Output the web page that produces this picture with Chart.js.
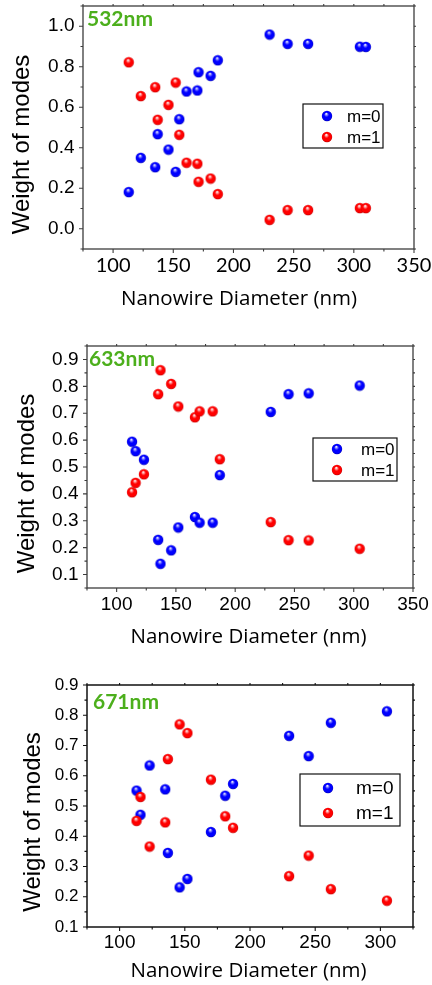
<!DOCTYPE html>
<html>
<head>
<meta charset="utf-8">
<script src="https://cdn.jsdelivr.net/npm/chart.js@4.4.1/dist/chart.umd.min.js"></script>
<style>
  html, body { margin: 0; padding: 0; background: #fff; }
  body { width: 432px; height: 985px; position: relative; overflow: hidden; }
  .panel { position: absolute; left: 0; width: 432px; }
</style>
</head>
<body>
<div class="panel" style="top:0;height:320px"><canvas id="c532"></canvas></div>
<div class="panel" style="top:320px;height:340px"><canvas id="c633"></canvas></div>
<div class="panel" style="top:660px;height:325px"><canvas id="c671"></canvas></div>
<script>
// ---- 532 nm ----
const diam532 = [113, 123, 135, 137, 146, 152, 155, 161, 170, 171, 181, 187, 230, 245, 262, 305, 310];
const m0_532  = [0.181, 0.350, 0.304, 0.467, 0.391, 0.281, 0.541, 0.678, 0.683, 0.773, 0.755, 0.832, 0.959, 0.913, 0.913, 0.899, 0.898];
const m1_532  = [0.822, 0.655, 0.699, 0.538, 0.612, 0.722, 0.464, 0.326, 0.321, 0.232, 0.248, 0.171, 0.044, 0.092, 0.092, 0.102, 0.102];
const xTicks532 = [100, 150, 200, 250, 300, 350];
const yTicks532 = [0.0, 0.2, 0.4, 0.6, 0.8, 1.0];

// ---- 633 nm ----
const diam633 = [113, 116, 123, 135, 137, 146, 152, 166, 170, 181, 187, 230, 245, 262, 305];
const m0_633  = [0.594, 0.559, 0.527, 0.229, 0.140, 0.190, 0.275, 0.314, 0.293, 0.293, 0.470, 0.705, 0.771, 0.774, 0.803];
const m1_633  = [0.406, 0.441, 0.473, 0.771, 0.860, 0.809, 0.725, 0.685, 0.707, 0.707, 0.529, 0.295, 0.228, 0.227, 0.196];
const xTicks633 = [100, 150, 200, 250, 300, 350];
const yTicks633 = [0.1, 0.2, 0.3, 0.4, 0.5, 0.6, 0.7, 0.8, 0.9];

// ---- 671 nm ----
const diam671 = [113, 116, 123, 135, 137, 146, 152, 170, 181, 187, 230, 245, 262, 305];
const m0_671  = [0.551, 0.471, 0.634, 0.555, 0.345, 0.231, 0.259, 0.414, 0.534, 0.573, 0.732, 0.665, 0.775, 0.813];
const m1_671  = [0.451, 0.530, 0.366, 0.446, 0.655, 0.770, 0.741, 0.587, 0.466, 0.428, 0.268, 0.336, 0.225, 0.187];
const xTicks671 = [100, 150, 200, 250, 300];
const yTicks671 = [0.1, 0.2, 0.3, 0.4, 0.5, 0.6, 0.7, 0.8, 0.9];

const seriesNames = ['m=0', 'm=1'];
const xTitle = 'Nanowire Diameter (nm)';
const yTitle = 'Weight of modes';

Chart.defaults.font.family = "'Liberation Sans', Arial, sans-serif";
Chart.defaults.color = '#000';

// glossy sphere marker
function makeBall(light, base, dark) {
  const s = 12, r = 5.2, cx = s / 2, cy = s / 2;
  const c = document.createElement('canvas');
  c.width = s; c.height = s;
  const g = c.getContext('2d');
  const grad = g.createRadialGradient(cx - 0.8, cy - 2.3, 0.2, cx, cy, r);
  grad.addColorStop(0, '#ffffff');
  grad.addColorStop(0.2, light);
  grad.addColorStop(0.45, base);
  grad.addColorStop(0.85, base);
  grad.addColorStop(1, dark);
  g.fillStyle = grad;
  g.beginPath(); g.arc(cx, cy, r, 0, Math.PI * 2); g.fill();
  return c;
}
const blueBall = makeBall('#8080ff', '#0000ff', '#0000b4');
const redBall  = makeBall('#ff9090', '#ff0000', '#c00000');

function minorValues(majors, min, max) {
  const step = (majors[1] - majors[0]) / 2;
  const out = [];
  const start = Math.ceil((min - 1e-9) / step);
  for (let k = start; k * step <= max + 1e-9; k++) {
    const v = +(k * step).toFixed(6);
    if (!majors.some(m => Math.abs(m - v) < 1e-6)) out.push(v);
  }
  return out;
}

function decorPlugin(p) {
  return {
    id: 'decor',
    afterDraw(chart) {
      const { ctx, chartArea: a, scales: { x, y } } = chart;
      ctx.save();
      // axis frame
      ctx.strokeStyle = p.frame; ctx.lineWidth = p.frameWidth;
      ctx.strokeRect(a.left, a.top, a.right - a.left, a.bottom - a.top);
      // tick marks
      ctx.lineWidth = 1.1;
      ctx.beginPath();
      const xMin = minorValues(p.xTicks, x.min, x.max);
      const yMin = minorValues(p.yTicks, y.min, y.max);
      p.xTicks.forEach(v => { const px = x.getPixelForValue(v); ctx.moveTo(px, a.bottom); ctx.lineTo(px, a.bottom + 4); ctx.moveTo(px, a.top); ctx.lineTo(px, a.top - 2); });
      xMin.forEach(v => { const px = x.getPixelForValue(v); ctx.moveTo(px, a.bottom); ctx.lineTo(px, a.bottom + 2.5); ctx.moveTo(px, a.top); ctx.lineTo(px, a.top - 2); });
      p.yTicks.forEach(v => { const py = y.getPixelForValue(v); ctx.moveTo(a.left, py); ctx.lineTo(a.left - 4, py); ctx.moveTo(a.right, py); ctx.lineTo(a.right + 2, py); });
      yMin.forEach(v => { const py = y.getPixelForValue(v); ctx.moveTo(a.left, py); ctx.lineTo(a.left - 2.5, py); ctx.moveTo(a.right, py); ctx.lineTo(a.right + 2, py); });
      ctx.stroke();

      // axis titles
      ctx.fillStyle = '#000';
      ctx.textAlign = 'center'; ctx.textBaseline = 'middle';
      ctx.font = p.xTitleFont;
      ctx.fillText(xTitle, p.xTitlePos[0], p.xTitlePos[1]);
      ctx.save();
      ctx.translate(p.yTitlePos[0], p.yTitlePos[1]);
      ctx.rotate(-Math.PI / 2);
      ctx.font = "24px 'Liberation Sans', Arial, sans-serif";
      ctx.fillText(yTitle, 0, 0);
      ctx.restore();

      // wavelength tag
      ctx.textAlign = 'left';
      ctx.fillStyle = '#4caf1c';
      ctx.font = "bold 21px Lato, 'Open Sans', sans-serif";
      ctx.fillText(p.tag, p.tagPos[0], p.tagPos[1]);

      // legend
      const L = p.legend;
      ctx.strokeStyle = '#111'; ctx.lineWidth = 1.2;
      ctx.fillStyle = '#fff';
      ctx.fillRect(L.box[0], L.box[1], L.box[2], L.box[3]);
      ctx.strokeRect(L.box[0], L.box[1], L.box[2], L.box[3]);
      ctx.fillStyle = '#000';
      ctx.font = L.font;
      [blueBall, redBall].forEach((img, i) => {
        ctx.drawImage(img, L.markerX - img.width / 2, L.rows[i] - img.height / 2);
        ctx.fillText(seriesNames[i], L.textX, L.rows[i] + 1);
      });
      ctx.restore();
    }
  };
}

function buildPanel(p) {
  const H = p.height;
  return new Chart(document.getElementById(p.id), {
    type: 'scatter',
    data: {
      datasets: [
        { label: seriesNames[1], data: p.diam.map((d, i) => ({ x: d, y: p.m1[i] })), pointStyle: redBall, pointRadius: 5, order: 0 },
        { label: seriesNames[0], data: p.diam.map((d, i) => ({ x: d, y: p.m0[i] })), pointStyle: blueBall, pointRadius: 5, order: 1 }
      ]
    },
    options: {
      responsive: true,
      maintainAspectRatio: false,
      animation: false,
      events: [],
      layout: { padding: { left: 0, top: p.area.top, right: 432 - p.area.right, bottom: 0 } },
      plugins: { legend: { display: false }, tooltip: { enabled: false } },
      scales: {
        x: {
          type: 'linear', min: p.xRange[0], max: p.xRange[1],
          afterBuildTicks: s => { s.ticks = p.xTicks.map(v => ({ value: v })); },
          afterFit: s => { s.height = H - p.area.bottom; s.paddingLeft = 0; s.paddingRight = 0; s.paddingTop = 0; s.paddingBottom = 0; },
          grid: { display: true, drawOnChartArea: false, drawTicks: true, tickLength: 4, tickColor: 'rgba(0,0,0,0)' },
          border: { display: false },
          ticks: { font: p.xTickFont, color: '#000', padding: p.xTickPad, maxRotation: 0, autoSkip: false, callback: v => String(v) }
        },
        y: {
          type: 'linear', min: p.yRange[0], max: p.yRange[1],
          afterBuildTicks: s => { s.ticks = p.yTicks.map(v => ({ value: v })); },
          afterFit: s => { s.width = p.area.left; s.paddingLeft = 0; s.paddingRight = 0; s.paddingTop = 0; s.paddingBottom = 0; },
          grid: { display: true, drawOnChartArea: false, drawTicks: true, tickLength: 4, tickColor: 'rgba(0,0,0,0)' },
          border: { display: false },
          ticks: { font: p.yTickFont, color: '#000', padding: 4.5, autoSkip: false, callback: v => Number(v).toFixed(1) }
        }
      }
    },
    plugins: [decorPlugin(p)]
  });
}

buildPanel({
  id: 'c532', tag: '532nm', height: 320,
  diam: diam532, m0: m0_532, m1: m1_532, xTicks: xTicks532, yTicks: yTicks532,
  xRange: [75, 350], yRange: [-0.1, 1.1],
  area: { left: 83, right: 414, top: 6, bottom: 249 },
  frame: '#3c3c3c', frameWidth: 1.3,
  xTickFont: { family: "Lato, 'Open Sans', sans-serif", size: 20 }, xTickPad: 1,
  yTickFont: { size: 19 },
  xTitleFont: "20.5px 'Open Sans', Lato, sans-serif",
  xTitlePos: [239, 299], yTitlePos: [22.7, 144.5], tagPos: [87, 19],
  legend: { box: [303, 104, 80, 44], markerX: 327, rows: [116, 137], textX: 347, font: "17px 'Liberation Sans', Arial, sans-serif" }
});

buildPanel({
  id: 'c633', tag: '633nm', height: 340,
  diam: diam633, m0: m0_633, m1: m1_633, xTicks: xTicks633, yTicks: yTicks633,
  xRange: [75, 350], yRange: [0.05, 0.95],
  area: { left: 87, right: 413, top: 26, bottom: 268 },
  frame: '#3c3c3c', frameWidth: 1.3,
  xTickFont: { size: 19 }, xTickPad: 1,
  yTickFont: { size: 19 },
  xTitleFont: "20.5px 'Open Sans', Lato, sans-serif",
  xTitlePos: [248.5, 317], yTitlePos: [27, 163.5], tagPos: [89, 39],
  legend: { box: [313, 118, 84, 43], markerX: 337, rows: [129, 150], textX: 361, font: "17px 'Liberation Sans', Arial, sans-serif" }
});

buildPanel({
  id: 'c671', tag: '671nm', height: 325,
  diam: diam671, m0: m0_671, m1: m1_671, xTicks: xTicks671, yTicks: yTicks671,
  xRange: [75, 325], yRange: [0.1, 0.9],
  area: { left: 87, right: 413, top: 25, bottom: 267 },
  frame: '#111', frameWidth: 1.5,
  xTickFont: { size: 19 }, xTickPad: 0,
  yTickFont: { size: 17 },
  xTitleFont: "20.5px 'Open Sans', Lato, sans-serif",
  xTitlePos: [248.5, 311.5], yTitlePos: [33, 162], tagPos: [93, 42],
  legend: { box: [300, 114, 100, 52], markerX: 328, rows: [128, 153], textX: 356, font: "19px 'Liberation Sans', Arial, sans-serif" }
});
</script>
</body>
</html>
